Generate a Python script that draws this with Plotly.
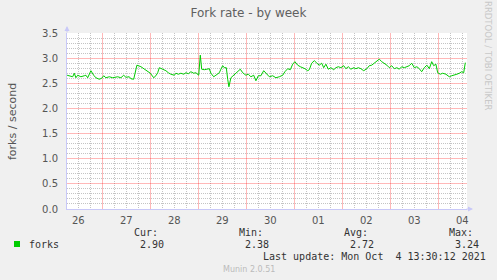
import plotly.graph_objects as go

# ---- data (hours since Sep 26 00:00, forks per second) ----
hours = [6.4, 7.5, 9.2, 10.0, 10.8, 11.7, 13.3, 15.0, 15.8, 16.7, 18.3, 19.7, 20.8, 22.5, 23.7,
         24.7, 25.8, 27.5, 29.2, 31.7, 33.3, 34.7, 35.8, 37.5, 38.3, 39.7, 40.3, 41.3, 43.3, 45.8,
         48.0, 49.7, 50.8, 51.7, 52.5, 54.2,
         55.0, 55.8, 57.0, 58.3, 60.0, 60.8, 62.0, 63.3, 64.7, 65.8, 67.0, 68.3, 69.7, 70.8, 72.2,
         73.0, 73.7, 75.0, 76.3, 77.5, 78.3, 79.7, 80.8, 82.5, 83.3, 84.2, 85.0, 86.0, 86.7, 87.3,
         88.3, 89.7, 90.8, 92.0, 93.0, 94.2, 95.8, 97.0, 98.3, 99.7, 100.8, 102.0, 103.3, 104.7,
         105.8, 106.5, 107.5, 109.2, 110.8, 112.5, 114.2, 115.3, 116.7, 118.0, 119.2, 120.3, 121.7,
         123.0, 124.2, 125.3, 126.7, 127.5, 128.7, 130.0, 131.3, 132.5, 133.7, 134.7, 135.8, 137.0,
         138.3, 139.7, 140.8, 142.0, 143.3, 144.7, 145.8, 147.0, 148.3, 149.7, 150.8, 152.0, 153.3,
         154.7, 156.3, 157.5, 158.7, 160.0, 161.3, 162.5, 163.7, 165.0, 166.3, 167.5, 168.7, 170.0,
         171.3, 172.5, 173.7, 175.0, 176.3, 177.5, 178.7, 180.0, 181.3, 182.5, 183.7, 185.0, 186.3,
         187.5, 188.7, 189.7, 190.8, 191.7, 193.0, 194.2, 195.8, 197.5, 198.7, 200.0, 201.3, 202.5,
         203.7, 204.7, 205.5]
forks = [2.66, 2.65, 2.63, 2.70, 2.61, 2.66, 2.63, 2.65, 2.66, 2.61, 2.75, 2.66, 2.61, 2.58, 2.60,
         2.65, 2.61, 2.63, 2.61, 2.63, 2.61, 2.66, 2.62, 2.63, 2.59, 2.58, 2.71, 2.86, 2.83, 2.77,
         2.70, 2.61, 2.65, 2.71, 2.81, 2.78,
         2.77, 2.75, 2.71, 2.68, 2.66, 2.70, 2.68, 2.70, 2.68, 2.71, 2.69, 2.73, 2.70, 2.71, 2.66,
         3.06, 2.78, 2.77, 2.78, 2.79, 2.70, 2.63, 2.66, 2.71, 2.78, 2.85, 2.81, 2.81, 2.58, 2.43,
         2.61, 2.66, 2.70, 2.73, 2.78, 2.71, 2.66, 2.68, 2.63, 2.66, 2.55, 2.65, 2.65, 2.75,
         2.70, 2.66, 2.63, 2.65, 2.61, 2.63, 2.66, 2.73, 2.79, 2.77, 2.88, 2.93, 2.86,
         2.83, 2.81, 2.79, 2.75, 2.77, 2.90, 2.95, 2.90, 2.86, 2.90, 2.81, 2.88, 2.78,
         2.81, 2.77, 2.81, 2.83, 2.81, 2.85, 2.79, 2.83, 2.78, 2.81, 2.79, 2.81, 2.79,
         2.75, 2.79, 2.85, 2.86, 2.90, 2.95, 2.98, 2.93, 2.90, 2.86, 2.81, 2.85, 2.79,
         2.81, 2.78, 2.83, 2.81, 2.83, 2.85, 2.90, 2.81, 2.83, 2.79, 2.73, 2.81, 2.86,
         2.79, 2.93, 2.85, 2.88, 2.71, 2.68, 2.70, 2.68, 2.63, 2.65, 2.66, 2.68, 2.70,
         2.73, 2.71, 2.91]

day_label_hours = [12, 36, 60, 84, 108, 132, 156, 180, 204]
day_labels = ["26", "27", "28", "29", "30", "01", "02", "03", "04"]
midnight_hours = [24, 48, 72, 96, 120, 144, 168, 192]
x_range = [6.35, 206.35]

stat_names = ["Cur:", "Min:", "Avg:", "Max:"]
stat_values = ["2.90", "2.38", "2.72", "3.24"]

W, H = 497, 280
L, R, T, B = 67, 30, 33, 71
PW, PH = W - L - R, H - T - B


def px(xp):
    return (xp - L) / PW


def py(yp):
    return (H - B - yp) / PH


# grid positions (6-hourly / 0.1 steps), skipping the ones that carry the red major grid
x_minor = [h for h in range(6, 210, 6) if h % 24 in (6, 18)]
y_minor = [round(i * 0.1, 1) for i in range(1, 35) if i % 5 != 0]

GREEN = "#00CC00"
AXIS = "#c8c8f8"
MINOR = "#c4c4c4"
MAJOR = "rgba(255,0,0,0.28)"
TXT = "#555555"
MONO = "DejaVu Sans Mono"

fig = go.Figure()
fig.add_trace(go.Scatter(x=hours, y=forks, mode="lines",
                         line=dict(color=GREEN, width=1), name="forks",
                         showlegend=False, hoverinfo="skip"))
# invisible helper trace so that the midnight axis is drawn
fig.add_trace(go.Scatter(x=[hours[0]], y=[forks[0]], xaxis="x2", mode="markers",
                         marker=dict(opacity=0), showlegend=False, hoverinfo="skip"))

fig.update_layout(
    width=W, height=H,
    margin=dict(l=L, r=R, t=T, b=B),
    paper_bgcolor="#F0F0F0",
    plot_bgcolor="#FFFFFF",
    font=dict(family="DejaVu Sans", color=TXT),
    title=dict(text="Fork rate - by week", x=0.5, xref="container", xanchor="center",
               y=1 - 13 / H, yref="container", yanchor="middle",
               font=dict(family="DejaVu Sans", size=12, color="#606060")),
    xaxis=dict(range=x_range, tickmode="array", tickvals=day_label_hours, ticktext=day_labels,
               showgrid=True, gridcolor=MINOR, griddash="1px,1px", gridwidth=1,
               minor=dict(tickmode="array", tickvals=x_minor, showgrid=True,
                          gridcolor=MINOR, griddash="1px,1px", gridwidth=1),
               zeroline=False, showline=True, linecolor=AXIS, linewidth=1,
               ticks="", tickfont=dict(size=10, color=TXT), ticklabelstandoff=2,
               fixedrange=True),
    xaxis2=dict(range=x_range, overlaying="x", side="bottom", tickmode="array",
                tickvals=midnight_hours, showticklabels=False, ticks="",
                showgrid=True, gridcolor=MAJOR, griddash="solid", gridwidth=1,
                zeroline=False, showline=False, fixedrange=True),
    yaxis=dict(range=[0, 3.5], tickmode="linear", tick0=0, dtick=0.5, tickformat=".1f",
               showgrid=True, gridcolor=MAJOR, griddash="solid", gridwidth=1,
               minor=dict(tickmode="array", tickvals=y_minor, showgrid=True,
                          gridcolor=MINOR, griddash="1px,1px", gridwidth=1),
               zeroline=False, showline=True, linecolor=AXIS, linewidth=1,
               ticks="", tickfont=dict(size=10, color=TXT), ticklabelstandoff=6,
               fixedrange=True),
)

ann = []
ann.append(dict(text="forks / second", x=px(12), y=py(121), xref="paper", yref="paper",
                textangle=-90, showarrow=False, font=dict(size=11, color=TXT),
                xanchor="center", yanchor="middle"))
ann.append(dict(text="RRDTOOL / TOBI OETIKER", x=px(488), y=py(56), xref="paper", yref="paper",
                textangle=90, showarrow=False, font=dict(size=8.5, color="#c8c8c8"),
                xanchor="center", yanchor="middle"))
ann.append(dict(text="", x=px(473), y=0, xref="paper", yref="paper", ax=-8, ay=0,
                showarrow=True, arrowhead=2, arrowsize=1, arrowwidth=1, arrowcolor=AXIS))
ann.append(dict(text="", x=0, y=py(26), xref="paper", yref="paper", ax=0, ay=8,
                showarrow=True, arrowhead=2, arrowsize=1, arrowwidth=1, arrowcolor=AXIS))
ann.append(dict(text="forks", x=px(27), y=py(244.5), xref="paper", yref="paper",
                showarrow=False, xanchor="left", yanchor="middle",
                font=dict(family=MONO, size=10, color="#333333")))
name_x = [132, 237, 342, 447]
val_x = [138, 243, 348, 453]
for nx, vx, n, v in zip(name_x, val_x, stat_names, stat_values):
    ann.append(dict(text=n, x=px(nx), y=py(232.5), xref="paper", yref="paper",
                    showarrow=False, xanchor="left", yanchor="middle",
                    font=dict(family=MONO, size=10, color="#333333")))
    ann.append(dict(text=v, x=px(vx), y=py(244.5), xref="paper", yref="paper",
                    showarrow=False, xanchor="left", yanchor="middle",
                    font=dict(family=MONO, size=10, color="#333333")))
ann.append(dict(text="Last update: Mon Oct \u00a04 13:30:12 2021", x=px(261), y=py(256.5),
                xref="paper", yref="paper", showarrow=False, xanchor="left", yanchor="middle",
                font=dict(family=MONO, size=10, color="#333333")))
ann.append(dict(text="Munin 2.0.51", x=px(249), y=py(269.5), xref="paper", yref="paper",
                showarrow=False, xanchor="center", yanchor="middle",
                font=dict(family="DejaVu Sans", size=8, color="#bbbbbb")))
fig.update_layout(annotations=ann)

fig.add_shape(type="rect", xref="paper", yref="paper",
              x0=px(14), x1=px(20), y0=py(247), y1=py(241),
              fillcolor=GREEN, line=dict(width=0))

fig.write_html("out.html")
